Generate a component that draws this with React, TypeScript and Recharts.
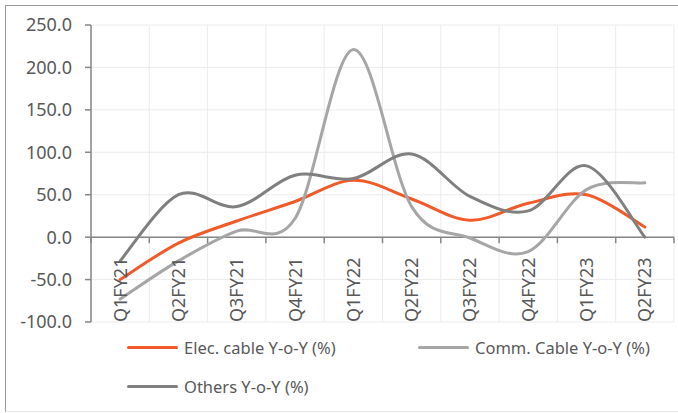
import React from "react";
import {
  CartesianGrid,
  Legend,
  Line,
  LineChart,
  ReferenceLine,
  XAxis,
  YAxis,
} from "recharts";

const quarters = [
  "Q1FY21",
  "Q2FY21",
  "Q3FY21",
  "Q4FY21",
  "Q1FY22",
  "Q2FY22",
  "Q3FY22",
  "Q4FY22",
  "Q1FY23",
  "Q2FY23",
];
const elecYoY = [-50, -7, 19, 42, 67, 45, 20, 40, 50, 12];
const commYoY = [-73, -28, 7, 22, 221, 36, -1, -17, 56, 64];
const othersYoY = [-28, 50, 36, 73, 69, 98, 48, 31, 84, 0];
const yTicks = [-100, -50, 0, 50, 100, 150, 200, 250];

const series = [
  { key: "elec", name: "Elec. cable Y-o-Y (%)", color: "#F15A29" },
  { key: "comm", name: "Comm. Cable Y-o-Y (%)", color: "#A6A6A6" },
  { key: "others", name: "Others Y-o-Y (%)", color: "#808080" },
];

const data = quarters.map((q, i) => ({
  q,
  elec: elecYoY[i],
  comm: commYoY[i],
  others: othersYoY[i],
}));

const FONT = "'Noto Sans', sans-serif";
const TEXT = "#595959";
const AXIS = "#868686";

// excel-style smoothed line (catmull-rom through every point)
function excelSmooth(context: any) {
  let pts: number[][] = [];
  return {
    areaStart() {},
    areaEnd() {},
    lineStart() {
      pts = [];
    },
    point(x: number, y: number) {
      pts.push([+x, +y]);
    },
    lineEnd() {
      const n = pts.length;
      if (!n) return;
      context.moveTo(pts[0][0], pts[0][1]);
      for (let i = 0; i < n - 1; i++) {
        const p0 = pts[Math.max(i - 1, 0)];
        const p1 = pts[i];
        const p2 = pts[i + 1];
        const p3 = pts[Math.min(i + 2, n - 1)];
        context.bezierCurveTo(
          p1[0] + (p2[0] - p0[0]) / 6,
          p1[1] + (p2[1] - p0[1]) / 6,
          p2[0] - (p3[0] - p1[0]) / 6,
          p2[1] - (p3[1] - p1[1]) / 6,
          p2[0],
          p2[1]
        );
      }
    },
  };
}

function QuarterTick({ x, y, payload }: any) {
  return (
    <text
      x={x}
      y={y}
      dy="0.36em"
      transform={`rotate(-90, ${x}, ${y})`}
      textAnchor="start"
      fill={TEXT}
      fontSize={18}
      fontFamily={FONT}
    >
      {payload.value}
    </text>
  );
}

function ZeroAxis(props: any) {
  const { x1, x2, y1 } = props;
  const step = (x2 - x1) / quarters.length;
  return (
    <g>
      <line x1={x1} x2={x2} y1={y1} y2={y1} stroke={AXIS} strokeWidth={1.5} />
      {quarters
        .map((_, i) => i)
        .concat(quarters.length)
        .map((i) => (
          <line
            key={i}
            x1={x1 + i * step}
            x2={x1 + i * step}
            y1={y1}
            y2={y1 + 6}
            stroke={AXIS}
            strokeWidth={1.5}
          />
        ))}
    </g>
  );
}

function LegendBox() {
  const spots = [
    { left: 0, top: 0 },
    { left: 291, top: 0 },
    { left: 0, top: 39 },
  ];
  return (
    <div style={{ position: "relative", width: 520, height: 60 }}>
      {series.map((s, i) => (
        <div
          key={s.key}
          style={{
            position: "absolute",
            left: spots[i].left,
            top: spots[i].top,
            display: "flex",
            alignItems: "center",
            whiteSpace: "nowrap",
            fontFamily: FONT,
            fontSize: 16.5,
            color: TEXT,
          }}
        >
          <span
            style={{
              display: "inline-block",
              width: 51,
              height: 3,
              background: s.color,
              borderRadius: 2,
              marginRight: 6,
            }}
          />
          {s.name}
        </div>
      ))}
    </div>
  );
}

export default function App() {
  return (
    <div
      style={{
        position: "fixed",
        left: 0,
        top: 0,
        width: 678,
        height: 413,
        background: "#fff",
      }}
    >
      <div
        style={{
          position: "absolute",
          left: 5,
          top: 5,
          width: 690,
          height: 405,
          borderLeft: "1.5px solid #9a9a9a",
          borderTop: "1.5px solid #9a9a9a",
          borderBottom: "1px solid #e6e6e6",
        }}
      />
      <LineChart
        width={678}
        height={413}
        data={data}
        margin={{ top: 25, right: 4, bottom: 30, left: 0 }}
      >
        <CartesianGrid
          stroke="#ececec"
          verticalCoordinatesGenerator={({ offset }: any) =>
            Array.from(
              { length: quarters.length + 1 },
              (_, i) => offset.left + (i * offset.width) / quarters.length
            )
          }
        />
        <XAxis
          dataKey="q"
          scale="band"
          interval={0}
          height={1}
          axisLine={false}
          tickLine={false}
          tickSize={0}
          tickMargin={0}
          tick={<QuarterTick />}
        />
        <YAxis
          width={91}
          domain={[-100, 250]}
          ticks={yTicks}
          interval={0}
          tickFormatter={(v: number) => v.toFixed(1)}
          axisLine={{ stroke: AXIS, strokeWidth: 1.5 }}
          tickLine={{ stroke: AXIS, strokeWidth: 1.5 }}
          tickSize={6}
          tickMargin={13}
          tick={{ fill: TEXT, fontSize: 18, fontFamily: FONT }}
        />
        <ReferenceLine y={0} shape={<ZeroAxis />} />
        {series.map((s) => (
          <Line
            key={s.key}
            dataKey={s.key}
            name={s.name}
            stroke={s.color}
            strokeWidth={3}
            type={excelSmooth as any}
            dot={false}
            activeDot={false}
            strokeLinecap="round"
            isAnimationActive={false}
          />
        ))}
        <Legend
          verticalAlign="bottom"
          content={() => <LegendBox />}
          wrapperStyle={{ position: "absolute", left: 127, top: 336, width: 520, height: 60 }}
        />
      </LineChart>
    </div>
  );
}
